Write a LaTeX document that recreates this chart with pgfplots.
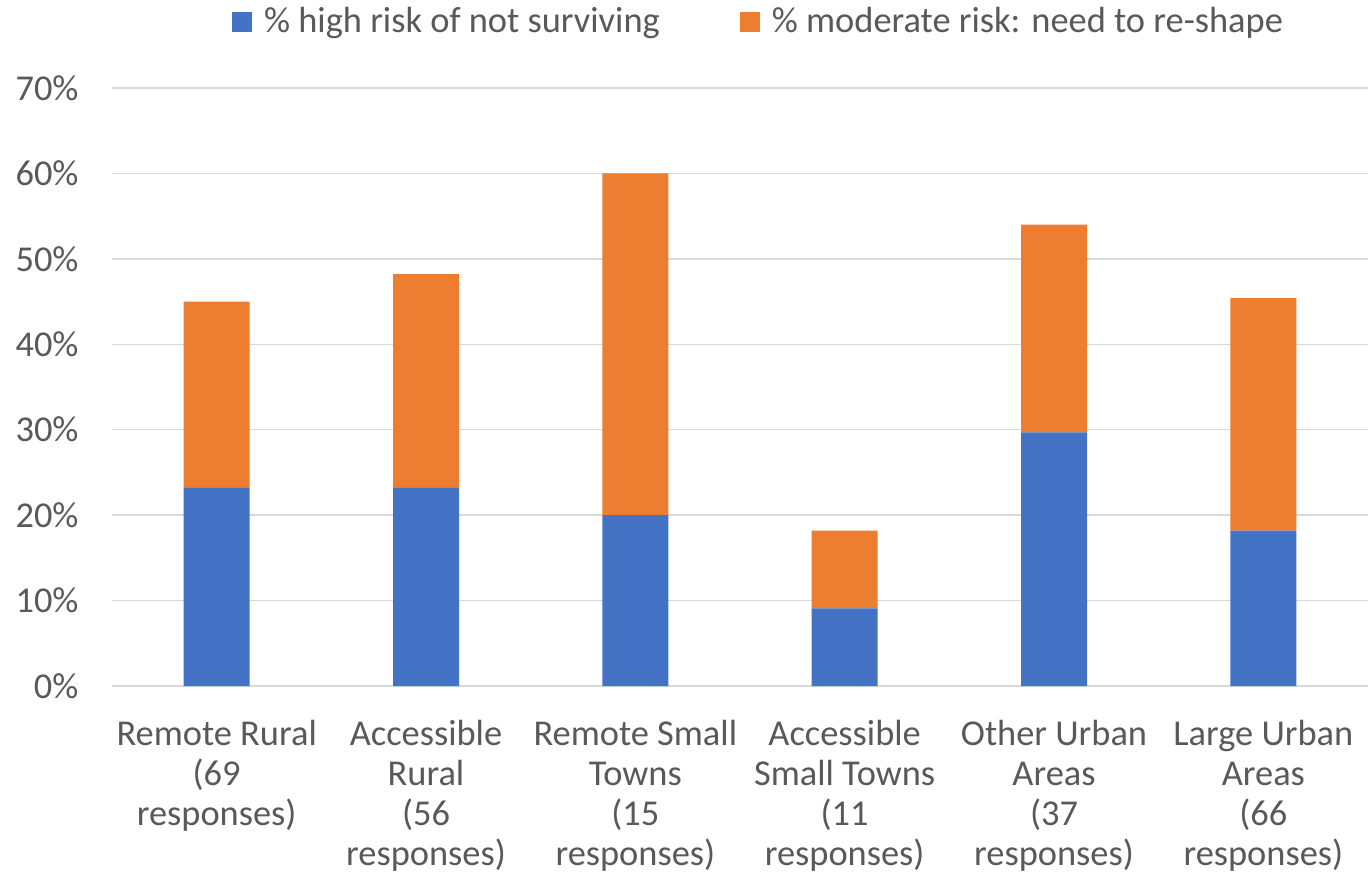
\documentclass[border=0pt]{standalone}
\usepackage{pgfplots}
\pgfplotsset{compat=1.18}
\usepackage{fontspec}
\setmainfont{Carlito}
\definecolor{cblue}{HTML}{4472C4}
\definecolor{corange}{HTML}{ED7D31}
\definecolor{ctext}{HTML}{595959}
\definecolor{cgrid}{HTML}{D9D9D9}
\begin{document}
\fontsize{18.2}{20}\selectfont
\begin{tikzpicture}
\useasboundingbox (-56pt,-100.5pt) rectangle (628pt,343pt);
\begin{axis}[
  at={(0,0)}, anchor=south west,
  scale only axis, width=628pt, height=299pt,
  ybar stacked, bar width=33pt,
  xmin=-0.5, xmax=5.5, ymin=0, ymax=70,
  xtick=data,
  xticklabels={{Remote Rural\\(69\\responses)},{Accessible\\Rural\\(56\\responses)},{Remote Small\\Towns\\(15\\responses)},{Accessible\\Small Towns\\(11\\responses)},{Other Urban\\Areas\\(37\\responses)},{Large Urban\\Areas\\(66\\responses)}},
  x tick label style={align=center, anchor=north, text=ctext, font=\fontsize{18.2}{20}\selectfont, yshift=-11pt},
  ytick={0,10,...,70},
  yticklabel={\pgfmathprintnumber{\tick}\%},
  /pgf/number format/assume math mode=true,
  y tick label style={text=ctext, font=\fontsize{18.2}{20}\selectfont, xshift=-10.5pt},
  ymajorgrids, grid style={cgrid, line width=0.75pt},
  axis x line*=bottom,
  axis y line*=left,
  x axis line style={draw=cgrid, line width=0.75pt, -},
  y axis line style={draw=none},
  major tick length=0pt,
  legend style={at={(0.5155,1.11)}, anchor=center, draw=none, legend columns=2, font=\fontsize{18.2}{20}\selectfont, text=ctext, /tikz/every even column/.append style={column sep=38pt}},
  legend image code/.code={\fill[#1] (-2pt,-5pt) rectangle (8pt,5pt);},
]
\addplot[fill=cblue, draw=none] coordinates {(0,23.2) (1,23.2) (2,20.0) (3,9.1) (4,29.7) (5,18.2)};
\addlegendentry{\hspace{4pt}\% high risk of not surviving}
\addplot[fill=corange, draw=none] coordinates {(0,21.8) (1,25.0) (2,40.0) (3,9.1) (4,24.3) (5,27.2)};
\addlegendentry{\hspace{4pt}\% moderate risk: need to re-shape}
\end{axis}
\end{tikzpicture}
\end{document}
